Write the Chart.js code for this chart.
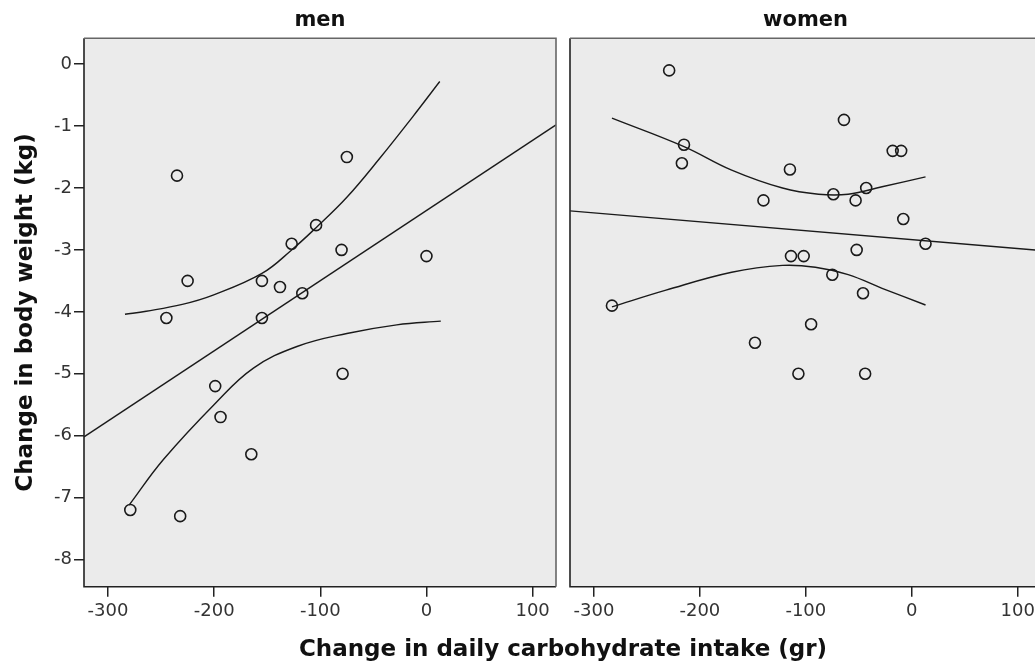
<!DOCTYPE html>
<html>
<head>
<meta charset="utf-8">
<script src="https://cdn.jsdelivr.net/npm/chart.js@4.4.1/dist/chart.umd.min.js"></script>
<style>
html, body { margin: 0; padding: 0; background: #fff; overflow: hidden; width: 1035px; height: 665px; }
#menBox { position: absolute; left: 0; top: 0; width: 560px; height: 665px; }
#womenBox { position: absolute; left: 85px; top: 0; width: 956px; height: 665px; }
</style>
</head>
<body>
<div id="menBox"><canvas id="menChart" width="560" height="665"></canvas></div>
<div id="womenBox"><canvas id="womenChart" width="956" height="665"></canvas></div>
<script>
// axis ranges and tick labels
const xMin = -322.6, xMax = 122;
const yMin = -8.44, yMax = 0.42;
const xTicks = [-300, -200, -100, 0, 100];
const yTicks = [0, -1, -2, -3, -4, -5, -6, -7, -8];

// men: change in carbohydrate intake (gr) vs change in body weight (kg)
const menCarb = [-235, -75, -104, -127, -80, 0, -225, -155, -138, -117, -245, -155, -79, -199, -194, -165, -279, -232];
const menWeight = [-1.8, -1.5, -2.6, -2.9, -3.0, -3.1, -3.5, -3.5, -3.6, -3.7, -4.1, -4.1, -5.0, -5.2, -5.7, -6.3, -7.2, -7.3];

// women
const womenCarb = [-229, -64, -215, -18, -10, -217, -115, -43, -74, -140, -53, -8, 13, -52, -114, -102, -75, -46, -283, -95, -148, -107, -44];
const womenWeight = [-0.1, -0.9, -1.3, -1.4, -1.4, -1.6, -1.7, -2.0, -2.1, -2.2, -2.2, -2.5, -2.9, -3.0, -3.1, -3.1, -3.4, -3.7, -3.9, -4.2, -4.5, -5.0, -5.0];

// fit lines and confidence curves
const menFitX = [-322.6, 122];
const menFitY = [-6.02, -0.98];
const menUpperX = [-284, -264, -230, -201, -155, -127, -104, -75, -44, -13, 12.5];
const menUpperY = [-4.04, -3.99, -3.88, -3.73, -3.38, -3.0, -2.64, -2.15, -1.52, -0.85, -0.28];
const menLowerX = [-280, -248, -199, -163, -122, -75, -28, 13.5];
const menLowerY = [-7.12, -6.39, -5.48, -4.91, -4.56, -4.35, -4.21, -4.15];

const womenFitX = [-322.6, 122];
const womenFitY = [-2.37, -3.01];
const womenUpperX = [-283, -215, -170, -122, -88, -60, -28, 13];
const womenUpperY = [-0.87, -1.33, -1.71, -2.0, -2.1, -2.1, -1.98, -1.82];
const womenLowerX = [-283, -232, -170, -122, -91, -60, -28, 13];
const womenLowerY = [-3.92, -3.65, -3.36, -3.25, -3.28, -3.4, -3.62, -3.89];

Chart.defaults.font.family = 'DejaVu Sans';
Chart.defaults.color = '#222';

function pairs(xs, ys) {
    return xs.map((x, i) => ({ x: x, y: ys[i] }));
}

function dots(xs, ys) {
    return {
        data: pairs(xs, ys),
        pointRadius: 5.5,
        pointBorderWidth: 1.6,
        borderColor: '#1a1a1a',
        backgroundColor: 'rgba(0,0,0,0)',
        showLine: false
    };
}

function curve(xs, ys, smooth) {
    return {
        data: pairs(xs, ys),
        showLine: true,
        borderColor: '#1a1a1a',
        borderWidth: 1.4,
        pointRadius: 0,
        tension: smooth ? 0.4 : 0
    };
}

// grey plot background plus a frame round the plot area
const frame = {
    id: 'frame',
    beforeDraw(chart, args, opts) {
        const a = chart.chartArea;
        const ctx = chart.ctx;
        ctx.save();
        ctx.fillStyle = '#ebebeb';
        ctx.fillRect(a.left, a.top, a.right - a.left, a.bottom - a.top);
        ctx.restore();
    },
    afterDatasetsDraw(chart, args, opts) {
        const a = chart.chartArea;
        const ctx = chart.ctx;
        ctx.save();
        ctx.lineWidth = 1.6;
        ctx.strokeStyle = '#222';
        ctx.beginPath();
        ctx.moveTo(a.left, a.top);
        ctx.lineTo(a.left, a.bottom);
        ctx.lineTo(a.right, a.bottom);
        ctx.stroke();
        ctx.strokeStyle = '#666';
        ctx.beginPath();
        ctx.moveTo(a.left, a.top);
        ctx.lineTo(a.right, a.top);
        if (opts.right) ctx.lineTo(a.right, a.bottom);
        ctx.stroke();
        ctx.restore();
    }
};

function xScale(height) {
    return {
        type: 'linear',
        min: xMin,
        max: xMax,
        afterBuildTicks: s => { s.ticks = xTicks.map(v => ({ value: v })); },
        ticks: { font: { size: 18 }, color: '#333', padding: 4, maxRotation: 0 },
        grid: { drawOnChartArea: false, tickLength: 10, color: '#222', lineWidth: 1.5 },
        border: { display: false },
        afterFit: s => {
            s.height = height;
            s.paddingLeft = 0;
            s.paddingRight = 0;
        }
    };
}

const panelFont = { size: 21, weight: 'bold' };
const axisFont = { size: 23, weight: 'bold' };

new Chart(document.getElementById('menChart'), {
    type: 'scatter',
    data: {
        datasets: [
            dots(menCarb, menWeight),
            curve(menFitX, menFitY, false),
            curve(menUpperX, menUpperY, true),
            curve(menLowerX, menLowerY, true)
        ]
    },
    options: {
        responsive: false,
        animation: false,
        layout: { autoPadding: false, padding: { right: 4 } },
        scales: {
            x: xScale(78.3),
            y: {
                type: 'linear',
                min: yMin,
                max: yMax,
                afterBuildTicks: s => { s.ticks = yTicks.map(v => ({ value: v })); },
                ticks: { font: { size: 18 }, color: '#333', padding: 2 },
                grid: { drawOnChartArea: false, tickLength: 10, color: '#222', lineWidth: 1.5 },
                border: { display: false },
                title: { display: true, text: 'Change in body weight (kg)', font: axisFont, color: '#111', padding: { top: 12, bottom: 0 } },
                afterFit: s => { s.width = 84; }
            }
        },
        plugins: {
            legend: { display: false },
            tooltip: { enabled: false },
            title: { display: true, text: 'men', fullSize: false, font: panelFont, color: '#111', padding: { top: 8, bottom: 5 } },
            frame: { right: true }
        }
    },
    plugins: [frame]
});

new Chart(document.getElementById('womenChart'), {
    type: 'scatter',
    data: {
        datasets: [
            dots(womenCarb, womenWeight),
            curve(womenFitX, womenFitY, false),
            curve(womenUpperX, womenUpperY, true),
            curve(womenLowerX, womenLowerY, true)
        ]
    },
    options: {
        responsive: false,
        animation: false,
        layout: { autoPadding: false },
        scales: {
            x: xScale(45.2),
            y: {
                type: 'linear',
                min: yMin,
                max: yMax,
                ticks: { display: false },
                grid: { display: false },
                border: { display: false },
                afterFit: s => { s.width = 485; }
            }
        },
        plugins: {
            legend: { display: false },
            tooltip: { enabled: false },
            title: { display: true, text: 'women', fullSize: false, font: panelFont, color: '#111', padding: { top: 8, bottom: 5 } },
            subtitle: {
                display: true,
                position: 'bottom',
                fullSize: true,
                text: 'Change in daily carbohydrate intake (gr)',
                font: axisFont,
                color: '#111',
                padding: { top: 4, bottom: 1.5 }
            },
            frame: { right: false }
        }
    },
    plugins: [frame]
});
</script>
</body>
</html>
